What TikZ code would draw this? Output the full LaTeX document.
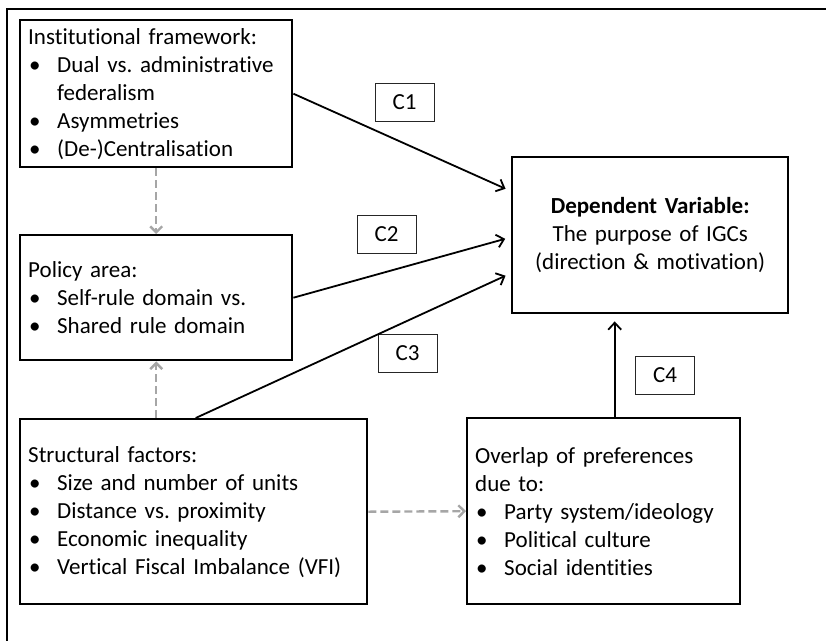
\documentclass[tikz,border=0pt]{standalone}
\usepackage{fontspec}
\setmainfont{Carlito}[Ligatures={NoCommon,NoContextual}]
\usetikzlibrary{arrows.meta}
\definecolor{dashgray}{RGB}{166,166,166}
\frenchspacing
\newcommand{\bitem}{\makebox[29pt][l]{\hspace{1pt}\textbullet}}
\newcommand{\bcont}{\hspace*{29pt}}
\tikzset{
  factor/.style={
    draw, line width=2.4pt, anchor=north west, align=left,
    inner xsep=8pt, inner ysep=0pt,
    font=\fontsize{23}{28}\selectfont
  },
  clabel/.style={
    draw=black!85, line width=0.9pt, minimum width=59pt, minimum height=38pt,
    inner sep=0pt, font=\fontsize{23}{28}\selectfont
  },
  effect/.style={
    line width=1.8pt, -{Straight Barb[length=7pt,width=13pt,line width=1.8pt]}
  },
  link/.style={
    dashgray, line width=2.4pt, dash pattern=on 8pt off 4pt,
    -{Straight Barb[length=6pt,width=12pt,line width=2.4pt]}
  }
}

\begin{document}
\begin{tikzpicture}[x=1pt,y=-1pt]
  \useasboundingbox (0,0) rectangle (826,640);
  % outer frame (only top and left edge show)
  \draw[line width=1.6pt] (7,660) -- (7,9) -- (840,9);

  % explanatory factors
  \node[factor, text width=256pt, minimum height=147pt] (inst) at (19,19)
    {Institutional framework:\\
     \bitem Dual vs. administrative\\
     \bcont federalism\\
     \bitem Asymmetries\\
     \bitem (De-)Centralisation};
  \node[factor, text width=256pt, minimum height=125pt] (pol) at (19,234)
    {Policy area:\\
     \bitem Self-rule domain vs.\\
     \bitem Shared rule domain};
  \node[factor, text width=331pt, minimum height=185pt] (struc) at (19,418)
    {Structural factors:\\
     \bitem Size and number of units\\
     \bitem Distance vs. proximity\\
     \bitem Economic inequality\\
     \bitem Vertical Fiscal Imbalance (VFI)};
  \node[factor, text width=257pt, minimum height=186pt] (ovl) at (466,417)
    {Overlap of preferences\\
     due to:\\
     \bitem Party system/ideology\\
     \bitem Political culture\\
     \bitem Social identities};

  % dependent variable
  \node[factor, align=center, text width=260pt, minimum height=156pt] (dv) at (511,156)
    {\textbf{Dependent Variable:}\\
     The purpose of IGCs\\
     (direction \& motivation)};

  % channel labels
  \node[clabel] (c1) at (404.5,102) {C1};
  \node[clabel] (c2) at (386.5,234) {C2};
  \node[clabel] (c3) at (407.5,353.5) {C3};
  \node[clabel] (c4) at (665,375.5) {C4};

  % effects on the dependent variable
  \draw[effect, shorten >=6pt] (inst.east) -- ([yshift=44pt]dv.west);
  \draw[effect, shorten >=6pt] (pol.east) -- ([yshift=-2pt]dv.west);
  \draw[effect, shorten >=6pt] ([xshift=2pt]struc.north) -- ([yshift=-38pt]dv.west);
  \draw[effect, shorten >=7pt] ([xshift=11pt]ovl.north) -- ([xshift=11pt]ovl.north |- dv.south);

  % links between the factors
  \draw[link] (inst.south) -- (pol.north);
  \draw[link] (pol.south |- struc.north) -- (pol.south);
  \draw[link] (struc.east) -- (ovl.west);
\end{tikzpicture}
\end{document}
